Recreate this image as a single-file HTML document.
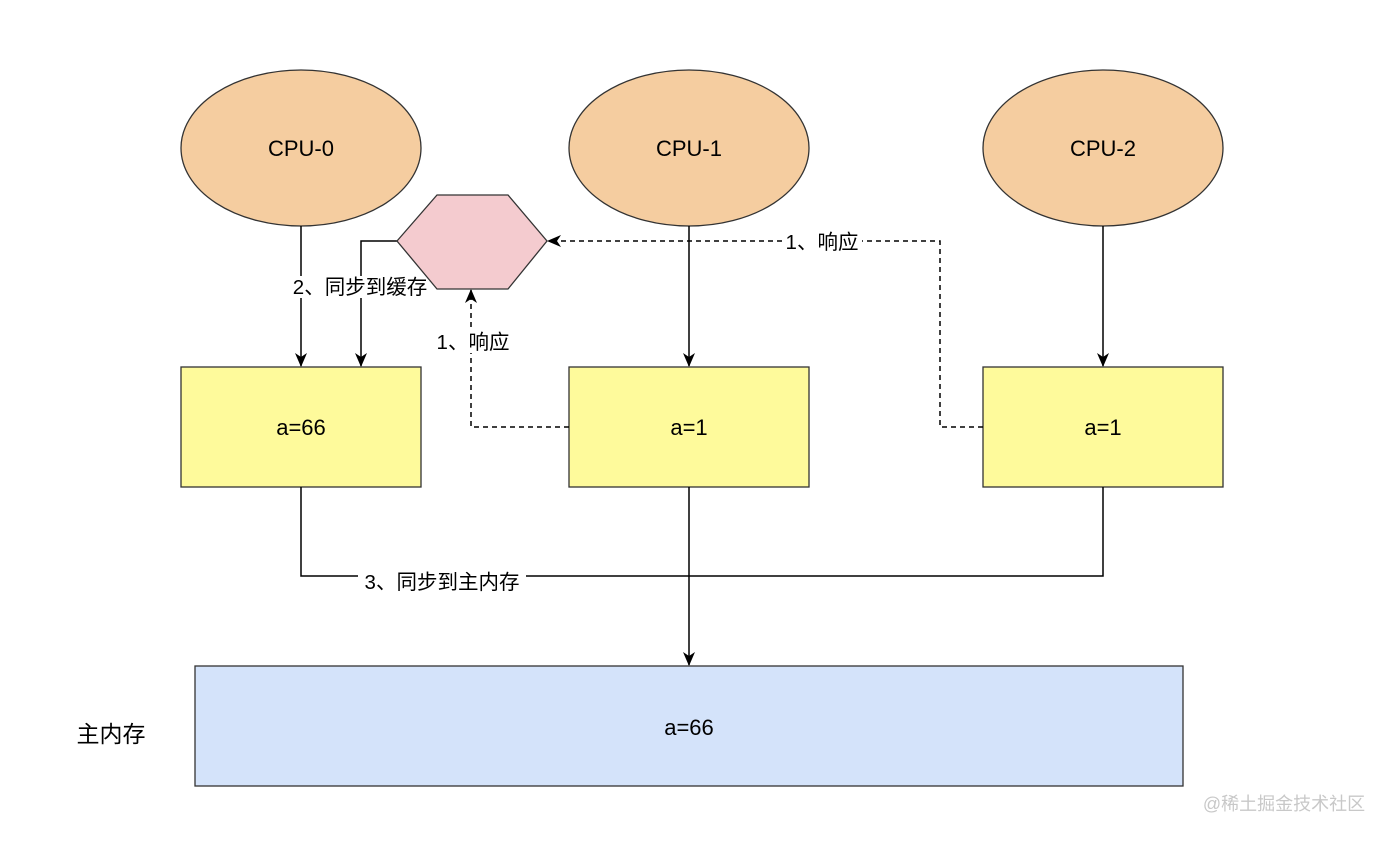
<!DOCTYPE html>
<html><head><meta charset="utf-8"><style>
body{margin:0;background:#fff;}
svg text{font-family:"Liberation Sans","Noto Sans CJK SC",sans-serif;}
</style></head><body>
<svg width="1380" height="838" viewBox="0 0 1380 838" xmlns="http://www.w3.org/2000/svg">
<defs>
<marker id="ar" markerWidth="14" markerHeight="14" refX="13" refY="6" orient="auto" markerUnits="userSpaceOnUse" viewBox="0 0 14 12">
<path d="M0,0 L14,6 L0,12 L4,6 Z" fill="#000"/>
</marker>
</defs>
<g fill="#f5cda0" stroke="#333" stroke-width="1.3">
<ellipse cx="301" cy="148" rx="120" ry="78"/>
<ellipse cx="689" cy="148" rx="120" ry="78"/>
<ellipse cx="1103" cy="148" rx="120" ry="78"/>
</g>
<g fill="#fefa9b" stroke="#333" stroke-width="1.3">
<rect x="181" y="367" width="240" height="120"/>
<rect x="569" y="367" width="240" height="120"/>
<rect x="983" y="367" width="240" height="120"/>
</g>
<rect x="195" y="666" width="988" height="120" fill="#d4e3fa" stroke="#333" stroke-width="1.3"/>
<g stroke="#000" stroke-width="1.5" fill="none">
<line x1="301" y1="226" x2="301" y2="366" marker-end="url(#ar)"/>
<polyline points="397,241 361,241 361,366" marker-end="url(#ar)"/>
<line x1="689" y1="226" x2="689" y2="366" marker-end="url(#ar)"/>
<line x1="1103" y1="226" x2="1103" y2="366" marker-end="url(#ar)"/>
<polyline points="301,487 301,576 1103,576 1103,487"/>
<line x1="689" y1="487" x2="689" y2="665" marker-end="url(#ar)"/>
<polyline points="569,427 471,427 471,290" stroke-dasharray="5,4" marker-end="url(#ar)"/>
<polyline points="983,427 940,427 940,241 548,241" stroke-dasharray="5,4" marker-end="url(#ar)"/>
</g>
<g fill="#fff">
<rect x="288" y="276" width="146" height="22"/>
<rect x="784" y="231" width="78" height="22"/>
<rect x="432" y="331" width="82" height="22"/>
<rect x="358" y="570" width="168" height="22"/>
</g>
<polygon points="397,241 437,195 508,195 547,241 508,289 437,289" fill="#f4cbcf" stroke="#333" stroke-width="1.3"/>
<g font-size="22" text-anchor="middle" fill="#000">
<text x="301" y="156">CPU-0</text>
<text x="689" y="156">CPU-1</text>
<text x="1103" y="156">CPU-2</text>
<text x="301" y="435">a=66</text>
<text x="689" y="435">a=1</text>
<text x="1103" y="435">a=1</text>
<text x="689" y="735">a=66</text>
<text x="111" y="742" font-size="23">主内存</text>
</g>
<g font-size="20.5" text-anchor="middle" fill="#000">
<text x="360" y="294">2、同步到缓存</text>
<text x="822" y="249">1、响应</text>
<text x="473" y="349">1、响应</text>
<text x="442" y="589">3、同步到主内存</text>
</g>
<text x="1284" y="810" font-size="18" text-anchor="middle" fill="#c8c8c8">@稀土掘金技术社区</text>
</svg>
</body></html>
